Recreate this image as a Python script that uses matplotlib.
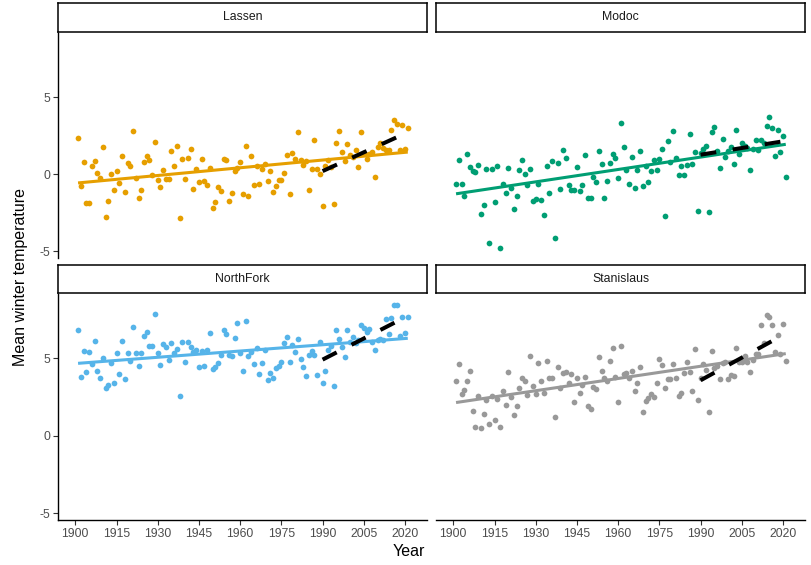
import numpy as np
import matplotlib
matplotlib.use("Agg")
import matplotlib.pyplot as plt

plt.rcParams["font.family"] = ["Liberation Sans", "DejaVu Sans"]
plt.rcParams["lines.scale_dashes"] = False
plt.rcParams["axes.unicode_minus"] = False

years = list(range(1901, 2022))

lassen = [
    2.38, -0.76, 0.80, -1.88, -1.84, 0.52, 0.87, 0.11, -0.22, 1.80,
    -2.75, -1.73, 0.04, -1.04, 0.22, -0.56, 1.21, -1.13, 0.71, 0.56,
    2.81, -0.26, -1.56, -1.02, 0.82, 1.17, 0.91, -0.06, 2.12, -0.39,
    -0.84, 0.30, -0.30, -0.32, 1.49, 0.52, 1.82, -2.84, 0.97, -0.30,
    1.06, 1.62, -0.93, 0.37, -0.48, 1.00, -0.43, -0.67, 0.39, -2.21,
    -1.77, -0.82, -1.10, 1.00, 0.95, -1.75, -1.21, 0.22, 0.43, 0.78,
    -1.26, 1.86, -1.41, 1.17, -0.67, 0.56, -0.61, 0.35, 0.69, -0.45,
    0.19, -1.13, -0.76, -0.39, -0.35, 0.11, 1.26, -1.28, 1.41, 1.02,
    2.71, 0.95, 0.63, 0.85, -1.02, 0.35, 2.25, 0.35, 0.00, -2.08,
    0.55, 0.90, 0.48, -1.93, 2.03, 2.81, 1.43, 0.87, 1.93, 1.23,
    1.10, 1.60, 0.48, 2.73, 1.35, 1.00, 1.34, 1.45, -0.15, 1.77,
    2.03, 1.73, 1.60, 1.55, 2.84, 3.55, 3.25, 1.56, 3.20, 1.65,
    3.00,
]

modoc = [
    -0.61, 0.91, -0.61, -1.41, 1.34, 0.48, 0.22, 0.15, 0.63, -2.55,
    -1.99, 0.37, -4.46, 0.32, -1.80, 0.54, -4.76, -0.65, -1.19, 0.43,
    -0.91, -2.23, -1.41, 0.26, 0.91, 0.00, -0.71, 0.32, -1.73, -1.62,
    -0.61, -1.69, -2.66, 0.52, -1.21, 0.84, -4.13, 0.74, -0.97, 1.60,
    1.06, -0.71, -1.00, -1.00, 0.48, -1.08, -0.71, 1.23, -1.52, -1.52,
    -0.17, -0.50, 1.52, 0.65, -1.56, -0.45, 0.74, 1.30, 1.08, -0.24,
    3.31, 1.77, 0.30, -0.61, 1.13, -0.87, 0.30, 1.49, -0.78, 0.52,
    -0.52, 0.22, 0.91, 0.26, 1.02, 1.67, -2.71, 2.16, 0.80, 2.81,
    1.08, -0.06, 0.52, -0.06, 0.58, 2.60, 0.69, 1.45, -2.40, 1.39,
    1.67, 1.84, -2.47, 2.75, 3.07, 1.49, 0.43, 2.27, 1.13, 1.52,
    1.77, 0.69, 2.90, 1.34, 2.03, 1.82, 1.71, 0.26, 1.67, 2.21,
    1.56, 2.21, 2.03, 3.14, 3.72, 2.97, 1.17, 2.90, 1.45, 2.47,
    -0.17,
]

northfork = [
    6.84, 3.78, 5.48, 4.11, 5.40, 4.65, 6.15, 4.17, 3.76, 5.01,
    3.08, 3.29, 4.73, 3.44, 5.38, 3.98, 6.15, 3.68, 5.35, 4.84,
    7.05, 5.35, 4.54, 5.33, 6.45, 6.73, 5.81, 5.83, 7.87, 5.33,
    4.58, 5.94, 5.76, 4.90, 6.02, 5.33, 5.61, 2.58, 6.09, 4.75,
    6.09, 5.76, 5.44, 5.55, 4.43, 5.48, 4.52, 5.55, 6.62, 4.32,
    4.47, 4.73, 5.23, 6.84, 6.56, 5.23, 5.18, 6.30, 7.27, 5.33,
    4.22, 7.42, 5.18, 5.44, 4.65, 5.66, 3.98, 4.73, 5.55, 3.61,
    4.09, 3.72, 4.37, 4.52, 4.80, 5.98, 6.37, 4.80, 5.87, 5.44,
    6.24, 4.95, 4.43, 3.87, 5.20, 5.50, 5.23, 3.94, 6.04, 3.40,
    4.19, 5.55, 5.78, 3.25, 6.84, 6.24, 5.72, 5.12, 6.84, 6.09,
    6.41, 5.98, 6.19, 7.16, 6.95, 6.73, 6.90, 6.09, 5.55, 6.19,
    6.24, 6.19, 7.53, 6.56, 7.59, 8.45, 8.45, 6.47, 7.70, 6.67,
    7.70,
]

stanislaus = [
    3.57, 4.65, 2.71, 2.97, 3.55, 4.19, 1.63, 0.56, 2.60, 0.54,
    1.42, 2.32, 0.77, 2.58, 1.03, 2.37, 0.56, 2.92, 1.98, 4.15,
    2.49, 1.38, 1.96, 3.07, 3.71, 3.55, 2.64, 5.16, 3.20, 2.71,
    4.69, 3.57, 2.75, 4.86, 3.71, 3.71, 1.20, 4.47, 3.07, 4.08,
    4.15, 3.44, 3.98, 2.22, 3.71, 2.80, 3.27, 3.81, 1.96, 1.72,
    3.14, 3.01, 5.12, 4.21, 3.71, 3.57, 4.86, 5.66, 3.78, 2.21,
    5.81, 3.98, 4.09, 3.72, 4.19, 2.92, 3.40, 4.47, 1.53, 2.28,
    2.43, 2.71, 2.54, 3.44, 4.97, 4.58, 3.12, 3.68, 3.66, 4.65,
    3.74, 2.58, 2.80, 4.04, 4.75, 4.15, 2.92, 5.61, 2.32, 3.72,
    4.62, 4.26, 1.53, 5.51, 4.37, 4.52, 3.66, 4.69, 4.80, 3.66,
    3.94, 3.87, 5.70, 4.80, 4.80, 5.16, 4.80, 4.15, 4.90, 5.27,
    5.29, 7.16, 6.02, 7.81, 7.66, 7.16, 5.44, 6.52, 5.29, 7.23,
    4.86,
]

sites = ["Lassen", "Modoc", "NorthFork", "Stanislaus"]
series = [lassen, modoc, northfork, stanislaus]
colors = ["#E69F00", "#009E73", "#56B4E9", "#999999"]
recent_start = 1990
x_ticks = [1900, 1915, 1930, 1945, 1960, 1975, 1990, 2005, 2020]
y_ticks = [-5, 0, 5]

W, H = 812, 565
fig = plt.figure(figsize=(W / 100, H / 100), dpi=100)
fig.patch.set_facecolor("white")


def rect(x0, y0, x1, y1):
    return [x0 / W, 1 - y1 / H, (x1 - x0) / W, (y1 - y0) / H]


# (plot box, strip box) in pixel coordinates, facet_wrap order
boxes = [
    ((58, 33, 427, 258), (58, 3, 427, 32)),
    ((436, 33, 805, 258), (436, 3, 805, 32)),
    ((58, 294, 427, 520), (58, 265, 427, 293)),
    ((436, 294, 805, 520), (436, 265, 805, 293)),
]

tick_color = "#4D4D4D"
for i, (name, vals, col) in enumerate(zip(sites, series, colors)):
    (pb, sb) = boxes[i]
    ax = fig.add_axes(rect(*pb))
    x = np.array(years, dtype=float)
    y = np.array(vals, dtype=float)

    ax.scatter(x, y, s=17, color=col, linewidths=0, zorder=2)

    # linear fit over the full record
    b, a = np.polyfit(x, y, 1)
    xs = np.array([x.min(), x.max()])
    ax.plot(xs, a + b * xs, color=col, lw=2.2, solid_capstyle="butt", zorder=3)

    # linear fit over the recent period
    m = x >= recent_start
    b2, a2 = np.polyfit(x[m], y[m], 1)
    xr = np.array([x[m].min(), x[m].max()])
    ax.plot(xr, a2 + b2 * xr, color="black", lw=2.9, dashes=(11.4, 12),
            dash_capstyle="butt", zorder=4)

    ax.set_xlim(1893.7, 2028.0)
    ax.set_ylim(-5.43, 9.16)
    ax.set_xticks(x_ticks)
    ax.set_yticks(y_ticks)
    for s in ("top", "right"):
        ax.spines[s].set_visible(False)
    left_col = i % 2 == 0
    bottom_row = i >= 2
    ax.spines["left"].set_visible(left_col)
    ax.spines["bottom"].set_visible(bottom_row)
    for s in ("left", "bottom"):
        ax.spines[s].set_linewidth(1.0)
        ax.spines[s].set_color("black")
    ax.tick_params(axis="x", bottom=bottom_row, labelbottom=bottom_row,
                   length=3.5, width=0.8, color="#333333",
                   labelsize=8.8, labelcolor=tick_color, pad=2)
    ax.tick_params(axis="y", left=left_col, labelleft=left_col,
                   length=3.5, width=0.8, color="#333333",
                   labelsize=8.8, labelcolor=tick_color, pad=2)
    ax.set_facecolor("white")

    sax = fig.add_axes(rect(*sb))
    sax.set_xticks([])
    sax.set_yticks([])
    sax.set_facecolor("white")
    for s in sax.spines.values():
        s.set_linewidth(1.1)
        s.set_color("black")
    sax.text(0.5, 0.5, name, ha="center", va="center", fontsize=8.8,
             color="#1A1A1A", transform=sax.transAxes)

fig.text(409 / W, 1 - 552 / H, "Year", ha="center", va="center", fontsize=11.5,
         color="black")
fig.text(21 / W, 1 - 277 / H, "Mean winter temperature", ha="center",
         va="center", rotation=90, fontsize=11.5, color="black")

fig.savefig("out.png", dpi=100, facecolor="white")
